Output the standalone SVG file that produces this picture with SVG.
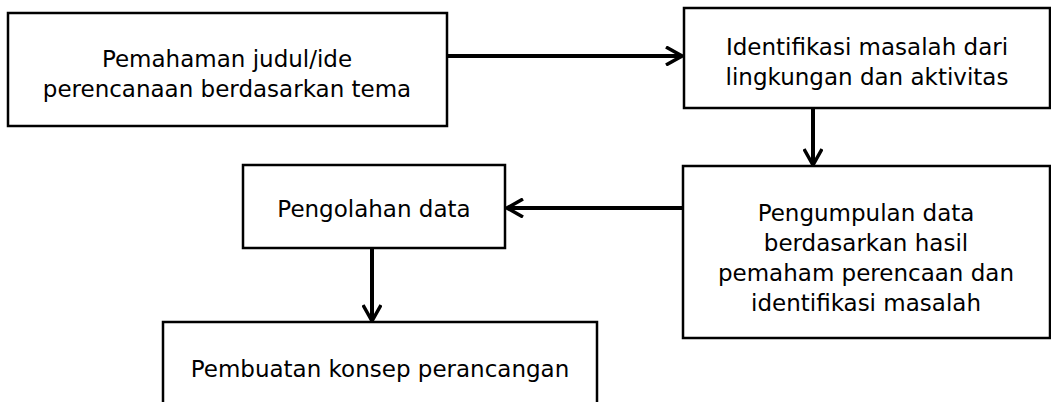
<svg xmlns="http://www.w3.org/2000/svg" width="1051" height="402" viewBox="0 0 1051 402">
<style>
.box{fill:#fff;stroke:#000;stroke-width:2.5}
.t{font-family:"DejaVu Sans",Verdana,sans-serif;font-size:23px;fill:#000;text-anchor:middle}
.c{stroke:#000;stroke-width:4;fill:none}
</style>
<defs>
<marker id="ah" viewBox="0 0 20 20" refX="18" refY="10" markerWidth="20" markerHeight="20" markerUnits="userSpaceOnUse" orient="auto">
<path d="M2,1 L18,10 L2,19" fill="none" stroke="#000" stroke-width="3.5"/>
</marker>
</defs>
<rect width="1051" height="402" fill="#fff"/>
<g id="connectors">
<line class="c" x1="448" y1="56" x2="682" y2="56" marker-end="url(#ah)"/>
<line class="c" x1="813" y1="108" x2="813" y2="165" marker-end="url(#ah)"/>
<line class="c" x1="683" y1="208" x2="507" y2="208" marker-end="url(#ah)"/>
<line class="c" x1="372" y1="248" x2="372" y2="321" marker-end="url(#ah)"/>
</g>
<g id="n1"><rect class="box" x="8" y="13" width="439" height="113"/>
<text class="t" x="227" y="67">Pemahaman judul/ide</text>
<text class="t" x="227" y="97">perencanaan berdasarkan tema</text></g>
<g id="n2"><rect class="box" x="684" y="8" width="366" height="100"/>
<text class="t" x="867" y="55">Identifikasi masalah dari</text>
<text class="t" x="867" y="85">lingkungan dan aktivitas</text></g>
<g id="n3"><rect class="box" x="683" y="166" width="367" height="172"/>
<text class="t" x="866" y="221">Pengumpulan data</text>
<text class="t" x="866" y="251">berdasarkan hasil</text>
<text class="t" x="866" y="281">pemaham perencaan dan</text>
<text class="t" x="866" y="311">identifikasi masalah</text></g>
<g id="n4"><rect class="box" x="243" y="165" width="262" height="83"/>
<text class="t" x="374" y="217">Pengolahan data</text></g>
<g id="n5"><rect class="box" x="163" y="322" width="434" height="100"/>
<text class="t" x="380" y="377">Pembuatan konsep perancangan</text></g>
</svg>
